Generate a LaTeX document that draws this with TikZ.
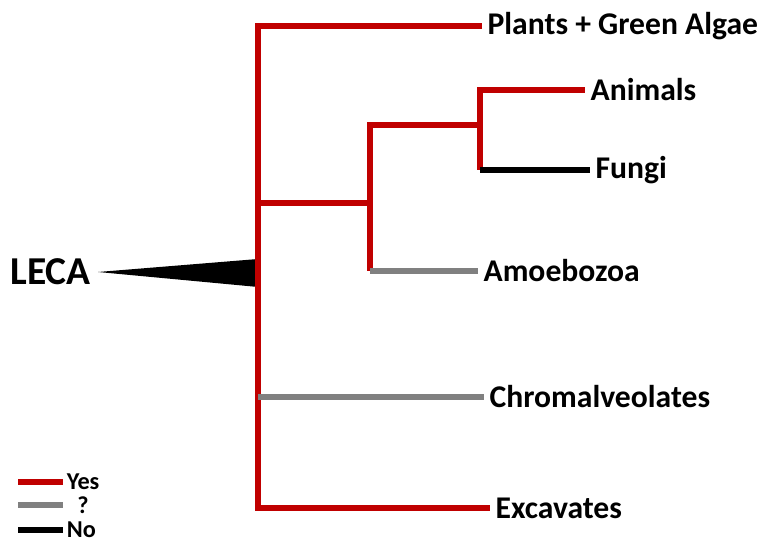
\documentclass[tikz,border=0pt]{standalone}
\usepackage{fontspec}
\setmainfont{Carlito}
\usepackage{xcolor}
\usetikzlibrary{positioning}
\definecolor{yesRed}{HTML}{C00000}
\definecolor{unkGray}{HTML}{808080}

\begin{document}
\begin{tikzpicture}[
  x=0.02cm, y=-0.02cm,
  lbl/.style={anchor=west, inner xsep=3pt, inner ysep=0pt, font=\fontsize{18}{21}\selectfont\bfseries},
  key/.style={anchor=west, inner xsep=2pt, inner ysep=0pt, font=\fontsize{13.8}{16}\selectfont\bfseries},
  yes/.style={draw=yesRed, line width=0.105cm},
  unk/.style={draw=unkGray, line width=0.105cm},
  no/.style={draw=black, line width=0.105cm},
  legline/.style={line width=0.11cm}
]
\useasboundingbox (0,0) rectangle (765,543);
\coordinate (top) at (258,26);
\coordinate (bot) at (258,508);
\coordinate (mid) at (258,203);
\coordinate (chr) at (258,397);
\coordinate (opis) at (370,203);
\coordinate (opisTop) at (370,125);
\coordinate (opisBot) at (370,271);
\coordinate (af) at (480,125);
\coordinate (afTop) at (480,90);
\coordinate (afBot) at (480,170);
\node[lbl] (plants) at (482,26) {Plants + Green Algae};
\node[lbl] (animals) at (585,90) {Animals};
\node[lbl] (fungi) at (590,170) {Fungi};
\node[lbl] (amoebo) at (478,271) {Amoebozoa};
\node[lbl] (chromal) at (484,397) {Chromalveolates};
\node[lbl] (excav) at (490,508) {Excavates};
\node[anchor=east, inner sep=0pt, font=\fontsize{22.5}{27}\selectfont\bfseries] (leca) at (91,272) {LECA};
\fill (98,272) -- (258,259) -- (258,287) -- cycle;
\draw[yes] (plants.west) -- (top) -- (bot) -- (excav.west);
\draw[yes] (mid) -- (opis);
\draw[yes] (opisBot) -- (opisTop) -- (af);
\draw[yes] (afBot) -- (afTop) -- (animals.west);
\draw[no] (afBot) -- (fungi.west);
\draw[unk] (opisBot) -- (amoebo.west);
\draw[unk] (chr) -- (chromal.west);
\coordinate (kYes) at (18,482);
\coordinate (kUnk) at (18,505);
\coordinate (kNo) at (18,530);
\node[key] (yesLbl) at (63,482) {Yes};
\node[key, inner xsep=0pt] (unkLbl) at (63,505) {\hspace{8pt}?};
\node[key] (noLbl) at (63,530) {No};
\draw[legline, yesRed] (kYes) -- (yesLbl.west);
\draw[legline, unkGray] (kUnk) -- (unkLbl.west);
\draw[legline, black] (kNo) -- (noLbl.west);
\end{tikzpicture}
\end{document}
